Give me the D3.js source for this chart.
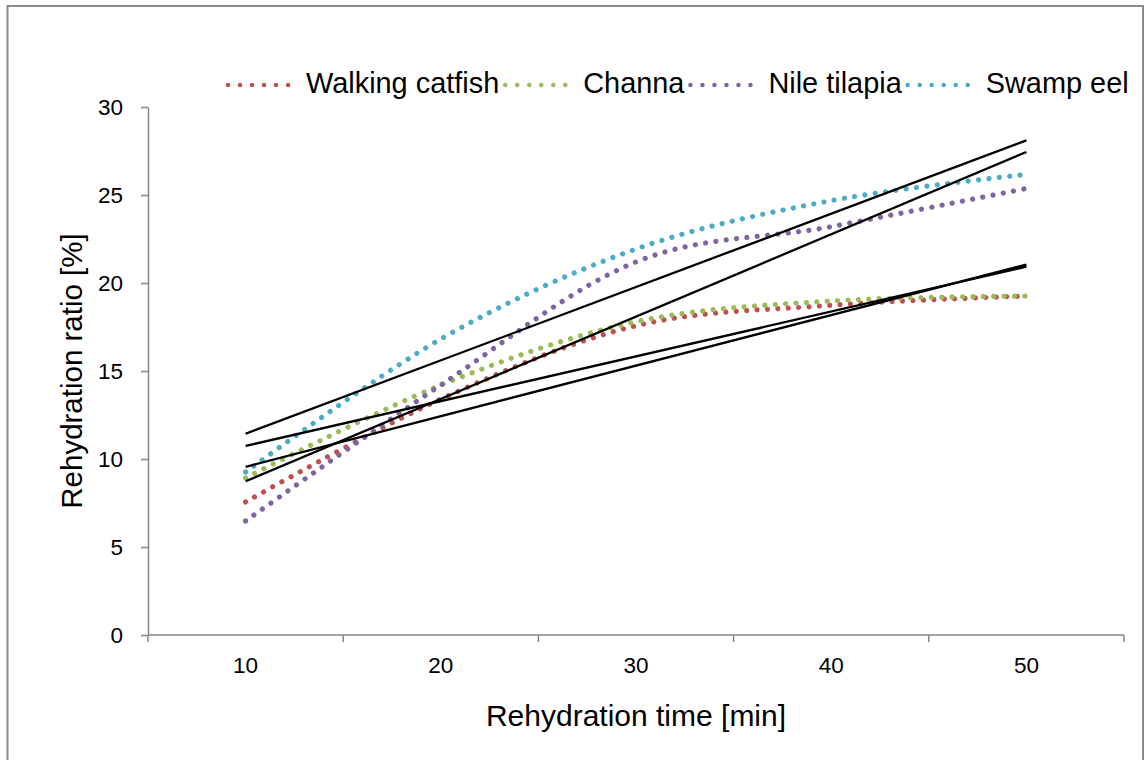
<!DOCTYPE html>
<html>
<head>
<meta charset="utf-8">
<script src="https://cdn.jsdelivr.net/npm/d3@7"></script>
<style>
  html, body { margin: 0; padding: 0; background: #fff; }
  svg { display: block; }
  text { font-family: "Liberation Sans", Arial, sans-serif; fill: #000; }
</style>
</head>
<body>
<svg id="chart" width="1147" height="760"></svg>
<script>
// Rehydration time categories (min)
const times = [10, 20, 30, 40, 50];

// Rehydration ratio (%) per species
const walkingCatfish = [7.56, 13.4, 17.57, 18.73, 19.26];
const channa         = [8.92, 14.2, 17.8, 18.98, 19.26];
const nileTilapia    = [6.48, 14.2, 21.2, 23.2, 25.37];
const swampEel       = [9.26, 16.82, 21.93, 24.68, 26.17];

const seriesNames = ["Walking catfish", "Channa", "Nile tilapia", "Swamp eel"];
const seriesColors = ["#C0504D", "#9BBB59", "#8064A2", "#4BACC6"];
const seriesValues = [walkingCatfish, channa, nileTilapia, swampEel];

const yTicks = [0, 5, 10, 15, 20, 25, 30];

const svg = d3.select("#chart");

// chart frame
svg.append("rect")
  .attr("x", 7.5).attr("y", 6)
  .attr("width", 1135.5).attr("height", 780)
  .attr("fill", "#fff")
  .attr("stroke", "#8a8a8a").attr("stroke-width", 2);

const plot = { left: 148, right: 1124, top: 107, bottom: 635 };

const x = d3.scaleBand().domain(times).range([plot.left, plot.right]).padding(0);
const xc = d => x(d) + x.bandwidth() / 2;
const y = d3.scaleLinear().domain([0, 30]).range([plot.bottom, plot.top]);

const axisColor = "#868686";

// Y axis
const yAxis = svg.append("g")
  .attr("transform", `translate(${plot.left},0)`)
  .call(d3.axisLeft(y).tickValues(yTicks).tickSize(7).tickSizeOuter(0).tickPadding(18));
yAxis.select(".domain").attr("stroke", axisColor).attr("stroke-width", 1.5);
yAxis.selectAll(".tick line").attr("stroke", axisColor).attr("stroke-width", 1.5);
yAxis.selectAll(".tick text")
  .style("font-family", '"Liberation Sans", Arial, sans-serif')
  .attr("font-size", 22.5).attr("fill", "#000");

// X axis (category axis, tick marks on category boundaries)
const xAxis = svg.append("g")
  .attr("transform", `translate(0,${plot.bottom})`)
  .call(d3.axisBottom(x).tickSize(0).tickSizeOuter(0).tickPadding(22));
xAxis.select(".domain").remove();
xAxis.selectAll(".tick text")
  .style("font-family", '"Liberation Sans", Arial, sans-serif')
  .attr("font-size", 22.5).attr("fill", "#000");
svg.append("line")
  .attr("x1", plot.left).attr("x2", plot.right)
  .attr("y1", plot.bottom).attr("y2", plot.bottom)
  .attr("stroke", axisColor).attr("stroke-width", 1.5);
const boundaries = times.map(t => x(t)).concat([x(times[times.length - 1]) + x.bandwidth()]);
svg.append("g").selectAll("line").data(boundaries).join("line")
  .attr("x1", d => d).attr("x2", d => d)
  .attr("y1", plot.bottom).attr("y2", plot.bottom + 7)
  .attr("stroke", axisColor).attr("stroke-width", 1.5);

// axis titles
svg.append("text")
  .attr("x", (plot.left + plot.right) / 2).attr("y", 726)
  .attr("text-anchor", "middle").attr("font-size", 30)
  .text("Rehydration time [min]");
svg.append("text")
  .attr("transform", `translate(82,${(plot.top + plot.bottom) / 2}) rotate(-90)`)
  .attr("text-anchor", "middle").attr("font-size", 29.5)
  .text("Rehydration ratio [%]");

// smoothed dotted series
const line = d3.line()
  .x((d, i) => xc(times[i]))
  .y(d => y(d))
  .curve(d3.curveCardinal.tension(0));

const seriesG = svg.append("g");
seriesValues.forEach((vals, k) => {
  seriesG.append("path")
    .datum(vals)
    .attr("d", line)
    .attr("fill", "none")
    .attr("stroke", seriesColors[k])
    .attr("stroke-width", 5.2)
    .attr("stroke-linecap", "round")
    .attr("stroke-dasharray", "0.01 10.4");
});

// linear trendlines (least squares on category index)
function linearFit(vals) {
  const xs = vals.map((_, i) => i + 1);
  const mx = d3.mean(xs), my = d3.mean(vals);
  const sxy = d3.sum(xs, (xv, i) => (xv - mx) * (vals[i] - my));
  const sxx = d3.sum(xs, xv => (xv - mx) * (xv - mx));
  const b = sxy / sxx, a = my - b * mx;
  return xv => a + b * xv;
}
const trendG = svg.append("g");
seriesValues.forEach(vals => {
  const f = linearFit(vals);
  trendG.append("line")
    .attr("x1", xc(times[0])).attr("y1", y(f(1)))
    .attr("x2", xc(times[times.length - 1])).attr("y2", y(f(times.length)))
    .attr("stroke", "#000").attr("stroke-width", 2.3);
});

// legend
const legend = svg.append("g");
let lx = 226;
const ly = 85;
seriesNames.forEach((name, k) => {
  legend.append("line")
    .attr("x1", lx + 2).attr("x2", lx + 68)
    .attr("y1", ly).attr("y2", ly)
    .attr("stroke", seriesColors[k])
    .attr("stroke-width", 4.5)
    .attr("stroke-linecap", "round")
    .attr("stroke-dasharray", "0.01 12");
  const t = legend.append("text")
    .attr("x", lx + 80).attr("y", ly + 8)
    .attr("font-size", 28.9)
    .text(name);
  lx += 80 + t.node().getComputedTextLength() + 4;
});
</script>
</body>
</html>
